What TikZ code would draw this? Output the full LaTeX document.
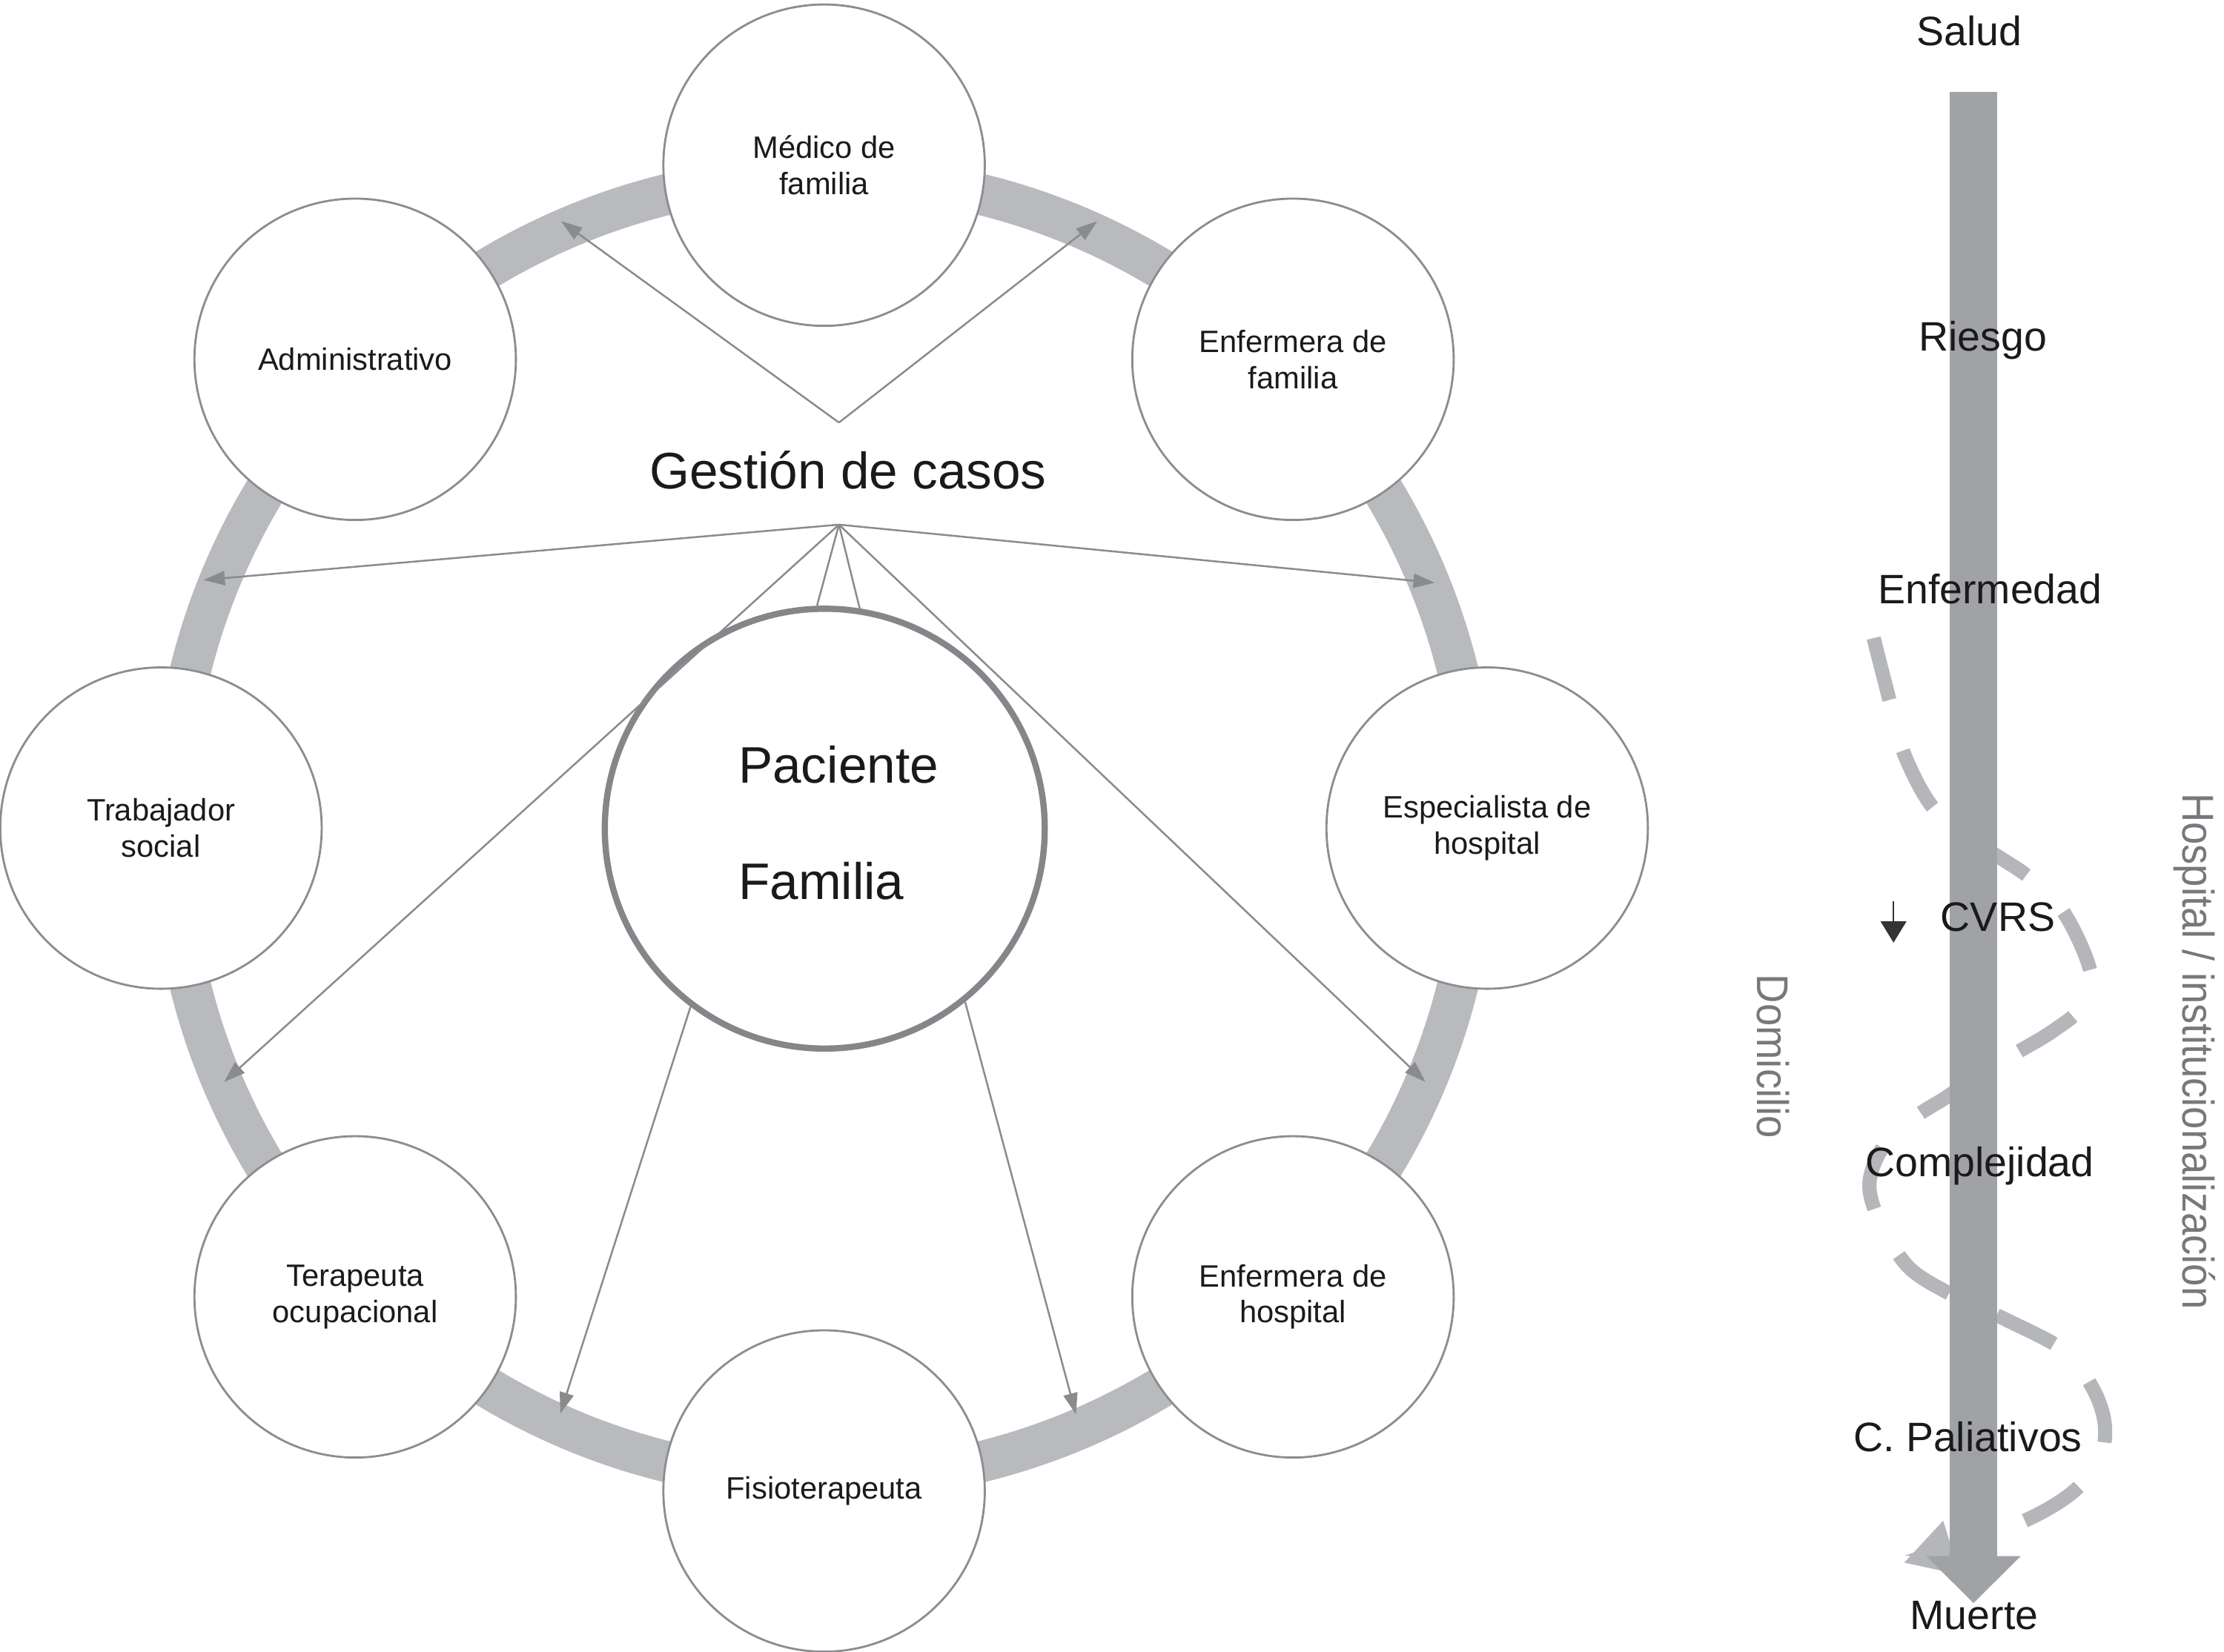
\documentclass[tikz,border=0pt]{standalone}
\usepackage{fontspec}
\setmainfont{Liberation Sans}
\newfontfamily\condsans[FakeStretch=0.91]{Liberation Sans}
\usetikzlibrary{arrows.meta}
\definecolor{ringgray}{HTML}{B9BABD}
\definecolor{axisgray}{HTML}{A0A2A5}
\definecolor{dashgray}{HTML}{B5B6B9}
\definecolor{linegray}{HTML}{8A8B8D}
\definecolor{circgray}{HTML}{8C8D8F}
\definecolor{coregray}{HTML}{85868A}
\definecolor{txtgray}{HTML}{77787B}
\definecolor{ink}{HTML}{1A1A1A}
\definecolor{darkink}{HTML}{333333}
\begin{document}
\begin{tikzpicture}[x=0.01cm, y=-0.01cm,
  ring/.style={draw=ringgray, line width=0.29cm},
  sat/.style={circle, draw=circgray, line width=0.42pt, fill=white, minimum size=2.265cm, inner sep=0pt, align=center, text=ink, font=\fontsize{6.2pt}{7.23pt}\selectfont},
  core/.style={circle, draw=coregray, line width=0.044cm, fill=white, minimum size=3.10cm, inner sep=0pt},
  conn/.style={draw=linegray, line width=0.37pt},
  arr/.style={conn, -{Triangle[length=0.15cm, width=0.10cm]}},
  big/.style={inner sep=0pt, text=ink, font=\fontsize{10.3pt}{12pt}\selectfont},
  lab/.style={anchor=base, inner sep=0pt, text=ink, font=\fontsize{8.25pt}{10pt}\selectfont},
  side/.style={rotate=-90, anchor=base west, inner sep=0pt, text=txtgray, font=\condsans\fontsize{8.9pt}{10pt}\selectfont},
  axis/.style={draw=axisgray, line width=0.337cm, -{Triangle[length=0.33cm, width=0.665cm, line width=0pt]}},
  wave/.style={draw=dashgray, line width=0.10cm, dash pattern=on 0.45cm off 0.37cm, -{Triangle[length=0.35cm, width=0.40cm, line width=0pt]}},
  downarr/.style={draw=darkink, line width=0.35pt, -{Triangle[length=0.15cm, width=0.18cm]}}
]
\useasboundingbox (0,0) rectangle (1568,1165);

% ring
\coordinate (rc) at (581,584);
\draw[ring] (rc) circle[radius=4.6cm];

% satellites
\node[sat] (med)  at (581,116.5)   {Médico de\\familia};
\node[sat] (enff) at (911.6,253.4) {Enfermera de\\familia};
\node[sat] (esp)  at (1048.5,584)  {Especialista de\\hospital};
\node[sat] (enfh) at (911.6,914.6) {Enfermera de\\hospital};
\node[sat] (fis)  at (581,1051.5)  {Fisioterapeuta};
\node[sat] (ter)  at (250.4,914.6) {Terapeuta\\ocupacional};
\node[sat] (tra)  at (113.5,584)   {Trabajador\\social};
\node[sat] (adm)  at (250.4,253.4) {Administrativo};

% centre
\node[core] (pac) at (581.5,584.4) {};
\node[big, anchor=base west] (tpac) at (520,552) {Paciente};
\node[big, anchor=base west] (tfam) at (520,634.4) {Familia};
\node[big, anchor=base] (gest) at (597.9,344.7) {Gestión de casos};

% connectors
\coordinate (a1) at (591.5,298);
\coordinate (a2) at (591.5,370);
\coordinate (t1) at (395.6,156);
\coordinate (t2) at (773.6,156);
\coordinate (t3) at (143.5,409);
\coordinate (t4) at (1011.5,411);
\coordinate (t5) at (158,763);
\coordinate (t6) at (1005,763);
\coordinate (t7) at (395,997);
\coordinate (t8) at (758.6,997.5);
\draw[arr] (a1) -- (t1);
\draw[arr] (a1) -- (t2);
\draw[arr] (a2) -- (t3);
\draw[arr] (a2) -- (t4);
\draw[arr] (a2) -- (t5);
\draw[arr] (a2) -- (t6);
\draw[conn] (a2) -- (pac.92);
\draw[conn] (a2) -- (pac.81);
\draw[arr] (pac.-127.6) -- (t7);
\draw[arr] (pac.-51.1) -- (t8);

% right: trajectory
\draw[wave] plot[smooth, tension=0.55] coordinates {(1321,450) (1333,497) (1343,533) (1364,571) (1398,597) (1431,619) (1456,645) (1474,686) (1468,710) (1446,728) (1419,744) (1391,761) (1372,774) (1350,788) (1327,810) (1318,835) (1325,861) (1345,893) (1374,912) (1415,931) (1456,953) (1476,980) (1484,1005) (1480,1030) (1458,1055) (1417,1077) (1342.6,1102)};
\coordinate (atop) at (1391.4,65);
\coordinate (abot) at (1391.4,1130.5);
\draw[axis] (atop) -- (abot);

\node[lab] (salud)  at (1388.5,32.3)  {Salud};
\node[lab] (riesgo) at (1398,247.6)   {Riesgo};
\node[lab] (enfer)  at (1403,425.5)   {Enfermedad};
\node[lab] (cvrs)   at (1408.6,656.7) {CVRS};
\node[lab] (compl)  at (1395.8,830)   {Complejidad};
\node[lab] (palia)  at (1387.4,1023.7){C. Paliativos};
\node[lab] (muerte) at (1391.9,1149)  {Muerte};

\coordinate (cv1) at (1335,635.4);
\coordinate (cv2) at (1335,664.8);
\draw[downarr] (cv1) -- (cv2);

\node[side] (dom)  at (1239,686.6)   {Domicilio};
\node[side] (hosp) at (1538.8,558.6) {Hospital / institucionalización};
\end{tikzpicture}
\end{document}
